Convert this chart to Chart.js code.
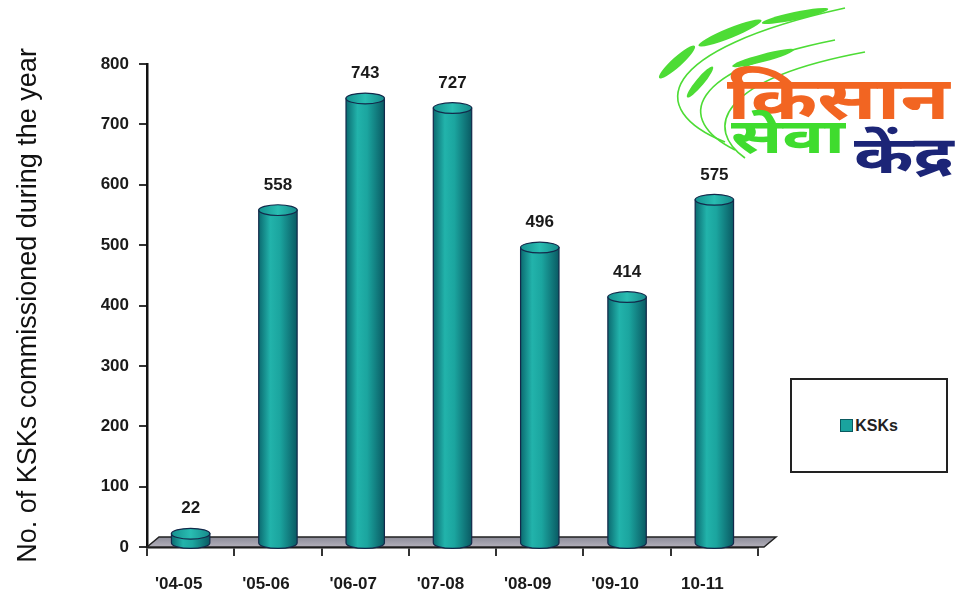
<!DOCTYPE html>
<head>
  <script src="https://cdn.jsdelivr.net/npm/chart.js"></script>
  <style>
    body { margin: 0; background: #fff; }
    .chartCard { position: relative; width: 964px; height: 609px; }
    .legendBox {
      position: absolute; left: 790px; top: 378px; width: 154px; height: 91px;
      border: 2px solid #222; background: #fff;
      display: flex; align-items: center; justify-content: center;
      font: bold 16px "Liberation Sans", Arial, sans-serif; color: #222;
    }
    .legendBox .swatch {
      display: inline-block; width: 11px; height: 11px; margin-right: 2px;
      background: #1aa39e; border: 1px solid #0b5a60;
    }
    .logo { position: absolute; left: 645px; top: 0; width: 319px; height: 185px; overflow: hidden; }
    .logo span {
      position: absolute; font-family: "Noto Sans Devanagari", "Lohit Devanagari", "Noto Sans", sans-serif;
      font-weight: bold; white-space: nowrap; line-height: 1; transform-origin: left top;
    }
    .kisan { left: 82px; top: 74px; font-size: 60px; color: #f26522; transform: scaleX(1.34); }
    .seva { left: 86px; top: 118px; font-size: 48px; color: #3fdc2e; transform: scaleX(1.45); }
    .kendra { left: 209px; top: 134px; font-size: 52px; color: #1c2577; transform: scaleX(1.38); }
  </style>
</head>

<body>
  <div class="chartCard">
    <canvas id="kskChart" width="964" height="609"></canvas>
    <div class="logo">
      <svg width="319" height="185">
        <g fill="none" stroke="#4ddc35" stroke-width="1.6">
          <path d="M80 142 C 0 110, 10 50, 200 8" />
          <path d="M90 150 C 30 120, 40 70, 190 40" />
          <path d="M100 158 C 60 130, 70 80, 220 52" />
        </g>
        <g fill="#4ddc35">
          <ellipse cx="32" cy="62" rx="24" ry="5" transform="rotate(-42 32 62)" />
          <ellipse cx="85" cy="33" rx="34" ry="5" transform="rotate(-22 85 33)" />
          <ellipse cx="150" cy="16" rx="34" ry="4" transform="rotate(-12 150 16)" />
          <ellipse cx="55" cy="82" rx="20" ry="4" transform="rotate(-50 55 82)" />
          <ellipse cx="118" cy="58" rx="32" ry="4" transform="rotate(-15 118 58)" />
        </g>
      </svg>
      <span class="kisan">किसान</span>
      <span class="seva">सेवा</span>
      <span class="kendra">केंद्र</span>
    </div>
    <div class="legendBox" id="legendBox"></div>
  </div>

<script>
const years = ["'04-05", "'05-06", "'06-07", "'07-08", "'08-09", "'09-10", "10-11"];
const kskCounts = [22, 558, 743, 727, 496, 414, 575];
const yTicks = [0, 100, 200, 300, 400, 500, 600, 700, 800];
const seriesName = "KSKs";

// grey 3d floor under the bars
const floorPlate = {
  id: 'floorPlate',
  beforeDatasetsDraw(chart) {
    const {ctx, chartArea: {left, right, bottom}} = chart;
    ctx.save();
    const g = ctx.createLinearGradient(0, bottom - 10, 0, bottom);
    g.addColorStop(0, '#8c8c99');
    g.addColorStop(1, '#b3b0ba');
    ctx.fillStyle = g;
    ctx.strokeStyle = '#222';
    ctx.lineWidth = 1.5;
    ctx.beginPath();
    ctx.moveTo(left, bottom);
    ctx.lineTo(left + 12, bottom - 10);
    ctx.lineTo(right + 18, bottom - 10);
    ctx.lineTo(right + 6, bottom);
    ctx.closePath();
    ctx.fill();
    ctx.stroke();
    ctx.restore();
  }
};

// draw each bar as a cylinder plus its value label
const cylinders = {
  id: 'cylinders',
  afterDatasetsDraw(chart) {
    const ctx = chart.ctx;
    const meta = chart.getDatasetMeta(0);
    ctx.save();
    meta.data.forEach((bar, i) => {
      const {x, y, base, width} = bar.getProps(['x', 'y', 'base', 'width'], true);
      const l = x - width / 2, r = x + width / 2;
      const ry = width * 0.14;
      const bot = base - 3;
      const g = ctx.createLinearGradient(l, 0, r, 0);
      g.addColorStop(0, '#0b6a70');
      g.addColorStop(0.3, '#22b3ab');
      g.addColorStop(0.55, '#1ba59f');
      g.addColorStop(1, '#0a5a63');
      ctx.fillStyle = g;
      ctx.strokeStyle = '#13294a';
      ctx.lineWidth = 1.2;
      ctx.beginPath();
      ctx.moveTo(l, y);
      ctx.lineTo(l, bot);
      ctx.ellipse(x, bot, width / 2, ry, 0, Math.PI, 0, true);
      ctx.lineTo(r, y);
      ctx.closePath();
      ctx.fill();
      ctx.stroke();
      // top cap
      const tg = ctx.createLinearGradient(l, 0, r, 0);
      tg.addColorStop(0, '#15918f');
      tg.addColorStop(0.5, '#29bdb2');
      tg.addColorStop(1, '#168a8a');
      ctx.fillStyle = tg;
      ctx.beginPath();
      ctx.ellipse(x, y, width / 2, ry, 0, 0, Math.PI * 2);
      ctx.fill();
      ctx.stroke();

      ctx.font = 'bold 17px "Liberation Sans", Arial, sans-serif';
      ctx.fillStyle = '#1a1a1a';
      ctx.textAlign = 'center';
      ctx.textBaseline = 'middle';
      ctx.fillText(String(kskCounts[i]), x, y - 25);
    });
    ctx.restore();
  }
};

const chart = new Chart(document.getElementById('kskChart'), {
  type: 'bar',
  data: {
    labels: years,
    datasets: [{
      label: seriesName,
      data: kskCounts,
      backgroundColor: 'rgba(0,0,0,0)',
      borderWidth: 0,
      categoryPercentage: 1,
      barPercentage: 0.44
    }]
  },
  options: {
    responsive: false,
    animation: false,
    layout: { padding: { top: 64, right: 206, bottom: 0, left: 0 } },
    plugins: {
      legend: { display: false },
      tooltip: { enabled: false }
    },
    scales: {
      x: {
        afterFit(scale) { scale.height = 62; },
        grid: { drawOnChartArea: false, tickLength: 9, color: '#333', lineWidth: 2 },
        border: { color: '#111', width: 2.5 },
        ticks: {
          color: '#1a1a1a',
          padding: 18,
          labelOffset: -12,
          maxRotation: 0,
          font: { family: '"Liberation Sans", Arial, sans-serif', size: 17, weight: 'bold' }
        }
      },
      y: {
        min: 0,
        max: 800,
        afterFit(scale) { scale.width = 147; },
        afterBuildTicks(scale) { scale.ticks = yTicks.map(v => ({value: v})); },
        grid: { drawOnChartArea: false, tickLength: 8, color: '#333', lineWidth: 2 },
        border: { color: '#111', width: 2.5 },
        ticks: {
          color: '#1a1a1a',
          padding: 10,
          font: { family: '"Liberation Sans", Arial, sans-serif', size: 17, weight: 'bold' }
        },
        title: {
          display: true,
          text: 'No. of KSKs commissioned during the year',
          color: '#111',
          padding: { top: 12, bottom: 0 },
          font: { family: '"Liberation Sans", Arial, sans-serif', size: 27, weight: 'normal' }
        }
      }
    }
  },
  plugins: [floorPlate, cylinders]
});

// html legend built from the dataset
const lb = document.getElementById('legendBox');
chart.data.datasets.forEach(ds => {
  const sw = document.createElement('span');
  sw.className = 'swatch';
  lb.appendChild(sw);
  lb.appendChild(document.createTextNode(ds.label));
});
</script>
</body>
